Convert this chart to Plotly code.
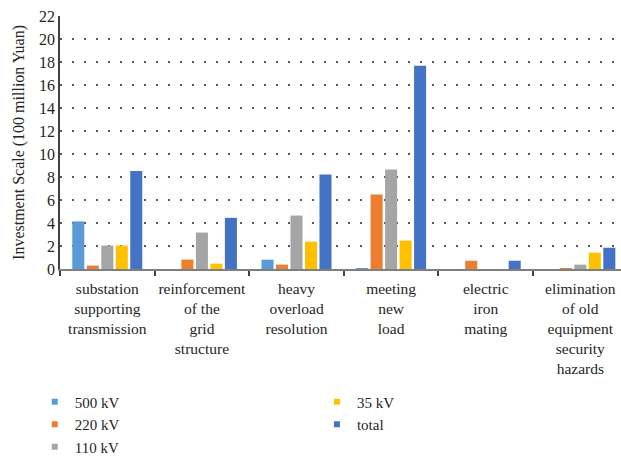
import plotly.graph_objects as go

categories = [
    "substation<br>supporting<br>transmission",
    "reinforcement<br>of the<br>grid<br>structure",
    "heavy<br>overload<br>resolution",
    "meeting<br>new<br>load",
    "electric<br>iron<br>mating",
    "elimination<br>of old<br>equipment<br>security<br>hazards",
]
kv500 = [4.14, 0.0, 0.81, 0.06, 0.0, 0.0]
kv220 = [0.30, 0.82, 0.38, 6.48, 0.72, 0.05]
kv110 = [2.04, 3.17, 4.65, 8.66, 0.0, 0.38]
kv35 = [2.04, 0.46, 2.38, 2.47, 0.0, 1.42]
total = [8.52, 4.45, 8.22, 17.67, 0.72, 1.85]
y_ticks = list(range(0, 24, 2))

series = [
    ("500 kV", kv500, "#5B9BD5", "legend"),
    ("220 kV", kv220, "#ED7D31", "legend"),
    ("110 kV", kv110, "#A5A5A5", "legend"),
    ("35 kV", kv35, "#FFC000", "legend2"),
    ("total", total, "#4472C4", "legend2"),
]

FONT = "Liberation Serif"
TEXT = "#262626"

fig = go.Figure()
for name, vals, color, leg in series:
    fig.add_trace(go.Bar(
        x=categories, y=vals, name=name, marker_color=color,
        marker_line_width=0, showlegend=False,
    ))
    # small square key for the legend
    fig.add_trace(go.Scatter(
        x=[None], y=[None], mode="markers", name=name,
        marker=dict(symbol="square", size=6, color=color), legend=leg,
    ))

legend_style = dict(
    xref="paper", yref="container", y=0.16,
    xanchor="left", yanchor="top", orientation="v",
    font=dict(family=FONT, size=15, color=TEXT), bgcolor="rgba(0,0,0,0)",
    itemsizing="trace", tracegroupgap=0,
)

fig.update_layout(
    width=621, height=459,
    margin=dict(l=60, r=0, t=16, b=190),
    paper_bgcolor="white", plot_bgcolor="white",
    font=dict(family=FONT, size=16, color=TEXT),
    barmode="group", bargap=0.234, bargroupgap=0.17,
    legend=dict(x=-0.045, **legend_style),
    legend2=dict(x=0.458, **legend_style),
)

fig.update_xaxes(
    type="category", range=[-0.5, 5.43],
    showline=True, linecolor="#7F7F7F", linewidth=2,
    ticks="outside", tickson="boundaries", ticklen=5, tickwidth=1.5,
    tickcolor="#404040", showgrid=False, tickangle=0, automargin=False,
    ticklabelstandoff=4,
    tickfont=dict(family=FONT, size=15.5, color=TEXT),
)
fig.update_yaxes(
    range=[0, 22], tickvals=y_ticks,
    showline=True, linecolor="#404040", linewidth=1.5,
    showgrid=True, gridcolor="#595959", gridwidth=1.5, griddash="1.5px,10.5px",
    zeroline=False, ticks="", automargin=False,
    tickfont=dict(family=FONT, size=16, color=TEXT),
    title=dict(text="Investment Scale (100 million Yuan)",
               font=dict(family=FONT, size=16, color=TEXT), standoff=10),
)

fig.write_html("out.html")
